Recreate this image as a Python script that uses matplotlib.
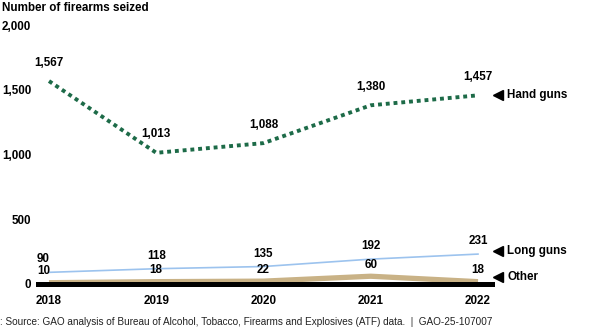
import matplotlib
matplotlib.use("Agg")
import matplotlib.pyplot as plt
from matplotlib.ticker import FuncFormatter

plt.rcParams['font.family'] = ['Liberation Sans', 'DejaVu Sans']

years = [2018, 2019, 2020, 2021, 2022]
hand_guns = [1567, 1013, 1088, 1380, 1457]
long_guns = [90, 118, 135, 192, 231]
other = [10, 18, 22, 60, 18]
y_ticks = [0, 500, 1000, 1500, 2000]

W, H = 599, 329
fig = plt.figure(figsize=(W / 100, H / 100), dpi=100)
left, right, bottom, top = 38, 492, 284, 25
ax = fig.add_axes([left / W, 1 - bottom / H, (right - left) / W, (bottom - top) / H])

px_per_year = 107.25
ax.set_xlim(2018 - 11 / px_per_year, 2022 + 14 / px_per_year)
ax.set_ylim(0, 2000)

green = '#1d6b48'
blue = '#9cc3ee'
tan = '#c9b286'
fs = 8.4

ax.plot(years, other, color=tan, lw=3.8, solid_capstyle='butt', zorder=2)
ax.plot(years, long_guns, color=blue, lw=1.2, zorder=3)
ax.plot(years, hand_guns, color=green, lw=2.8, linestyle=(0, (1, 1)),
        dash_capstyle='butt', zorder=3)
ax.axhline(0, color='black', lw=3.6, zorder=4, clip_on=False)

lab = dict(ha='center', va='bottom', fontsize=fs, fontweight='bold', color='black')
for x, v in zip(years, hand_guns):
    ax.annotate(f"{v:,}", (x, v), xytext=(0, 9), textcoords='offset points', **lab)
for x, v in zip(years, long_guns):
    ax.annotate(f"{v:,}", (x, v), xytext=(-4 if x == 2018 else 0, 5),
                textcoords='offset points', **lab)
for x, v in zip(years, other):
    ax.annotate(f"{v:,}", (x, v), xytext=(-4 if x == 2018 else 0, 4),
                textcoords='offset points', **lab)

# series names at the right end
mx = 2022 + 20 / px_per_year
tx = 2022 + 29 / px_per_year
for name, yv in [("Hand guns", 1457), ("Long guns", 255), ("Other", 55)]:
    ax.plot([mx], [yv], marker='<', color='black', ms=6.5, clip_on=False,
            linestyle='none')
    ax.text(tx, yv, name, ha='left', va='center', fontsize=fs,
            fontweight='bold', clip_on=False)

ax.set_xticks(years)
ax.set_xticklabels([str(y) for y in years], fontsize=fs, fontweight='bold')
ax.set_yticks(y_ticks)
ax.yaxis.set_major_formatter(FuncFormatter(lambda v, p: f"{int(v):,}"))
for t in ax.get_yticklabels():
    t.set_fontweight('bold')
    t.set_fontsize(fs)
ax.tick_params(axis='both', length=0)
ax.tick_params(axis='x', pad=8)
ax.tick_params(axis='y', pad=5)
for s in ax.spines.values():
    s.set_visible(False)

fig.text(2 / W, 1 - 8 / H, "Number of firearms seized", ha='left', va='center',
         fontsize=fs, fontweight='bold')
fig.text(0, 1 - 322 / H,
         ": Source: GAO analysis of Bureau of Alcohol, Tobacco, Firearms and Explosives (ATF) data.  |  GAO-25-107007",
         ha='left', va='center', fontsize=7.2, color='#222222')

fig.savefig("out.png", dpi=100)
